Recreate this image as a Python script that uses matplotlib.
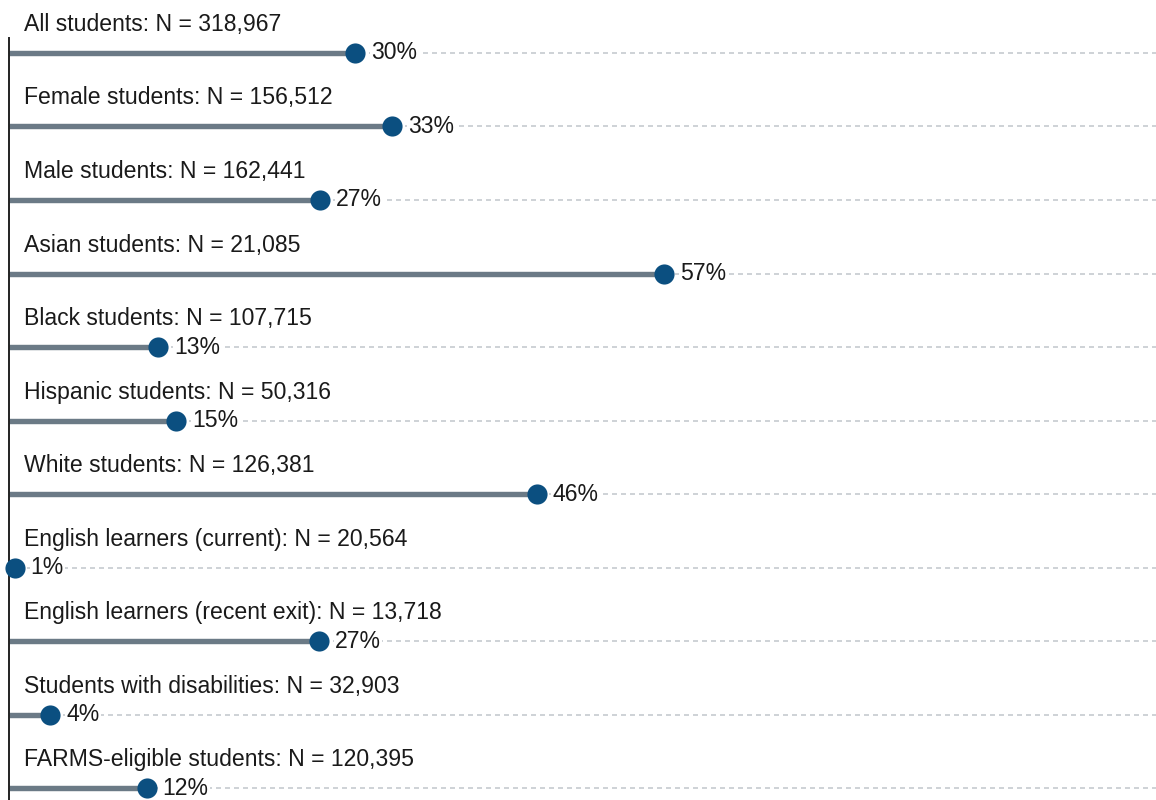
import matplotlib
matplotlib.use("Agg")
import matplotlib.pyplot as plt

categories = [
    "All students: N = 318,967",
    "Female students: N = 156,512",
    "Male students: N = 162,441",
    "Asian students: N = 21,085",
    "Black students: N = 107,715",
    "Hispanic students: N = 50,316",
    "White students: N = 126,381",
    "English learners (current): N = 20,564",
    "English learners (recent exit): N = 13,718",
    "Students with disabilities: N = 32,903",
    "FARMS-eligible students: N = 120,395",
]
values = [30.2, 33.4, 27.1, 57.1, 13.0, 14.6, 46.0, 0.5, 27.0, 3.6, 12.0]
value_labels = ["30%", "33%", "27%", "57%", "13%", "15%", "46%", "1%", "27%", "4%", "12%"]

plt.rcParams['font.family'] = ['Liberation Sans', 'DejaVu Sans']

W, H, DPI = 1156, 800, 100
fig = plt.figure(figsize=(W / DPI, H / DPI), dpi=DPI)
left_px = 9
ax = fig.add_axes([left_px / W, 0, (W - left_px) / W, 762 / H])

bar_color = "#6b7a86"
dot_color = "#0b4f80"
grid_color = "#c6cbd0"
text_color = "#1a1a1a"

for i, (cat, v, lab) in enumerate(zip(categories, values, value_labels)):
    ax.plot([0, 100], [i, i], linestyle=(0, (3, 2.4)), color=grid_color,
            linewidth=1.2, zorder=1, clip_on=False)
    ax.plot([0, v], [i, i], color=bar_color, linewidth=3.9,
            solid_capstyle='butt', zorder=2)
    ax.plot([v], [i], 'o', color=dot_color, markersize=14.5, zorder=4,
            clip_on=False, markeredgewidth=0)
    ax.annotate(lab, xy=(v, i), xytext=(16, 0), textcoords='offset pixels',
                ha='left', va='center', fontsize=16.6, color=text_color,
                zorder=3,
                bbox=dict(boxstyle='square,pad=0.05', fc='white', ec='none'))
    ax.annotate(cat, xy=(0, i), xytext=(15, 22), textcoords='offset pixels',
                ha='left', va='baseline', fontsize=16.6, color=text_color)

ax.set_xlim(0, 100)
ax.set_ylim(10.163, -0.204)
for s in ['top', 'right', 'bottom']:
    ax.spines[s].set_visible(False)
ax.spines['left'].set_color('#222222')
ax.spines['left'].set_linewidth(1.4)
ax.set_xticks([])
ax.set_yticks([])
ax.patch.set_alpha(0)

fig.savefig("out.png", dpi=DPI)
